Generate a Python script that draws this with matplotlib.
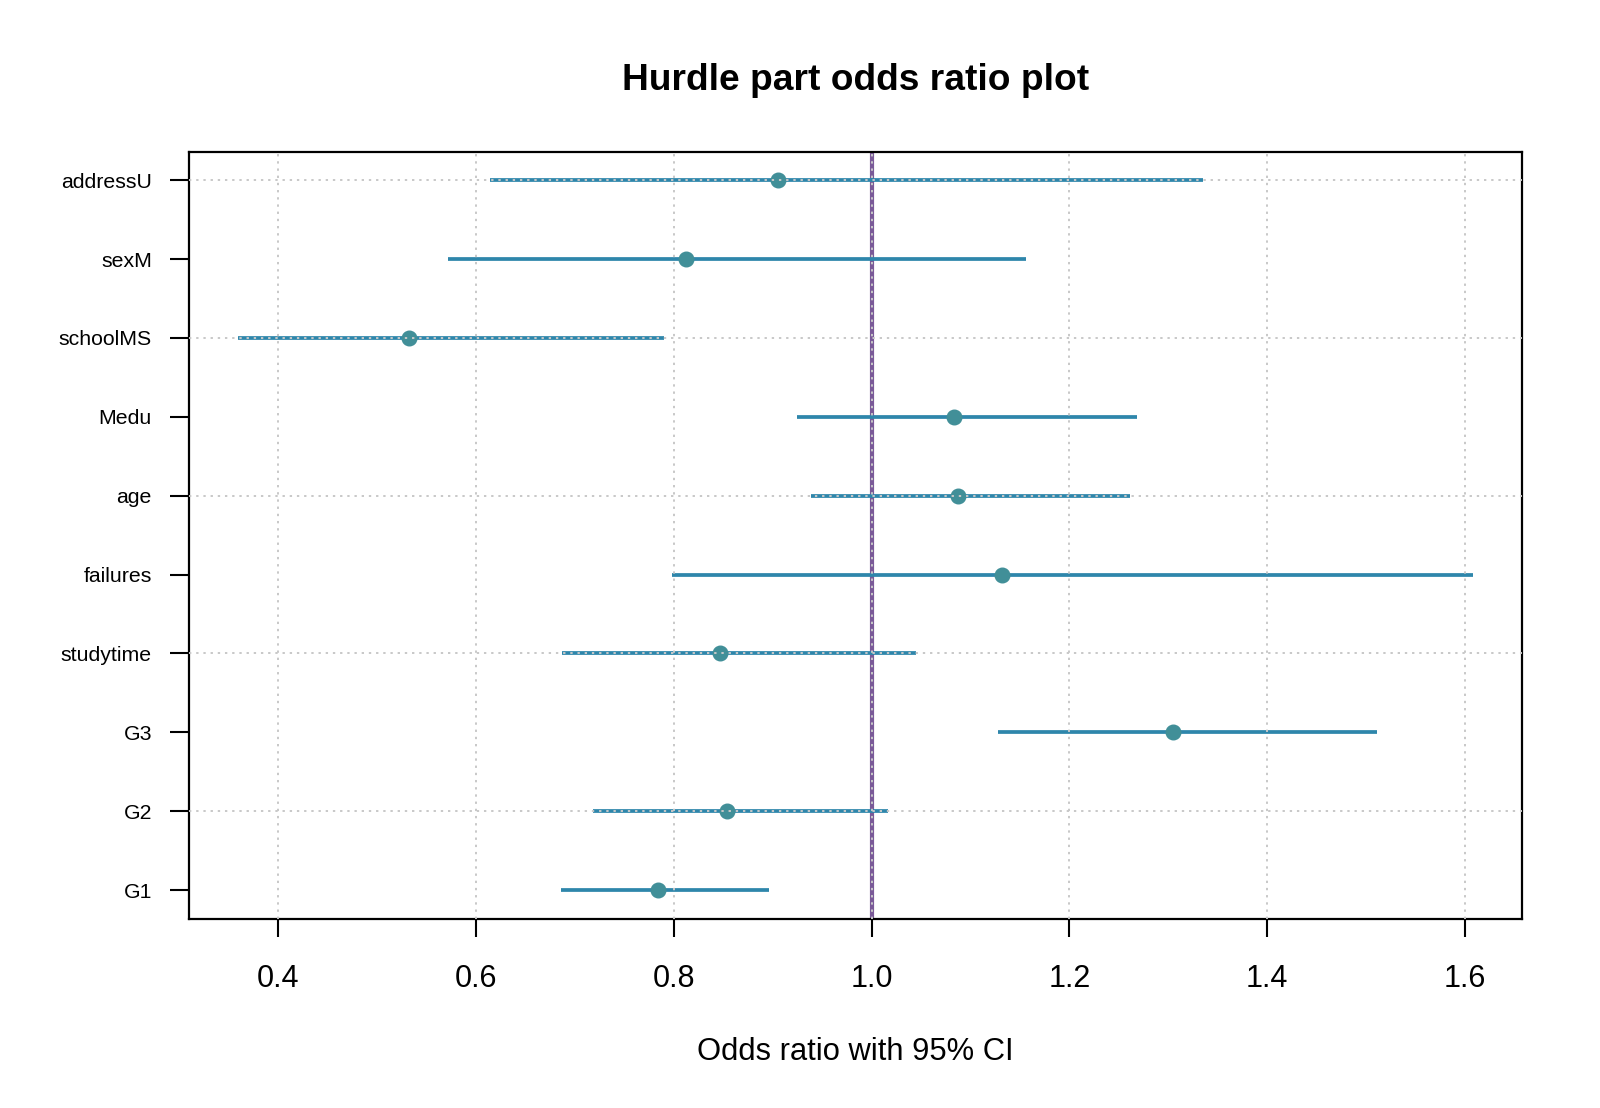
import numpy as np
import matplotlib
matplotlib.use("Agg")
import matplotlib.pyplot as plt

plt.rcParams['font.family'] = ['Liberation Sans', 'DejaVu Sans']

# odds ratios with 95% CI, bottom to top
terms = ['G1', 'G2', 'G3', 'studytime', 'failures', 'age', 'Medu',
         'schoolMS', 'sexM', 'addressU']
odds = [0.784, 0.854, 1.305, 0.847, 1.132, 1.087, 1.083, 0.533, 0.813, 0.905]
lower = [0.686, 0.719, 1.128, 0.687, 0.798, 0.939, 0.925, 0.360, 0.572, 0.614]
upper = [0.896, 1.017, 1.511, 1.045, 1.608, 1.261, 1.268, 0.790, 1.156, 1.335]

line_col = '#2E86AB'
point_col = '#418F98'
ref_col = '#7A5A98'

fig = plt.figure(figsize=(16, 11.08), dpi=100)
ax = fig.add_axes([0.118, 0.171, 0.833, 0.692])

y = np.arange(1, len(terms) + 1)
ax.hlines(y, lower, upper, color=line_col, lw=2.7, zorder=2)
ax.plot(odds, y, 'o', color=point_col, ms=10.5, zorder=3)
ax.axvline(1.0, color=ref_col, lw=3.0, zorder=1)

ax.set_xlim(0.31, 1.657)
ax.set_ylim(0.64, 10.36)

# R-style grid drawn over the data, at the pretty ticks
for gx in np.arange(0.4, 1.61, 0.2):
    ax.axvline(gx, color='#c8c8c8', lw=1.4, ls=(0, (1.2, 2.5)), zorder=4)
for gy in [2, 4, 6, 8, 10]:
    ax.axhline(gy, color='#c8c8c8', lw=1.4, ls=(0, (1.2, 2.5)), zorder=4)

ax.set_xticks(np.arange(0.4, 1.61, 0.2))
ax.set_xticklabels(['0.4', '0.6', '0.8', '1.0', '1.2', '1.4', '1.6'])
ax.set_yticks(y)
ax.set_yticklabels(terms)
ax.tick_params(axis='x', labelsize=22, length=13, width=1.5, pad=20)
ax.tick_params(axis='y', labelsize=15.3, length=14, width=1.5, pad=12.5)
for s in ax.spines.values():
    s.set_linewidth(1.6)

ax.set_xlabel('Odds ratio with 95% CI', fontsize=22.2, labelpad=31)
fig.text(0.535, 0.927, 'Hurdle part odds ratio plot', ha='center', va='center',
         fontsize=26.7, fontweight='bold')

fig.savefig('out.png', dpi=100)
